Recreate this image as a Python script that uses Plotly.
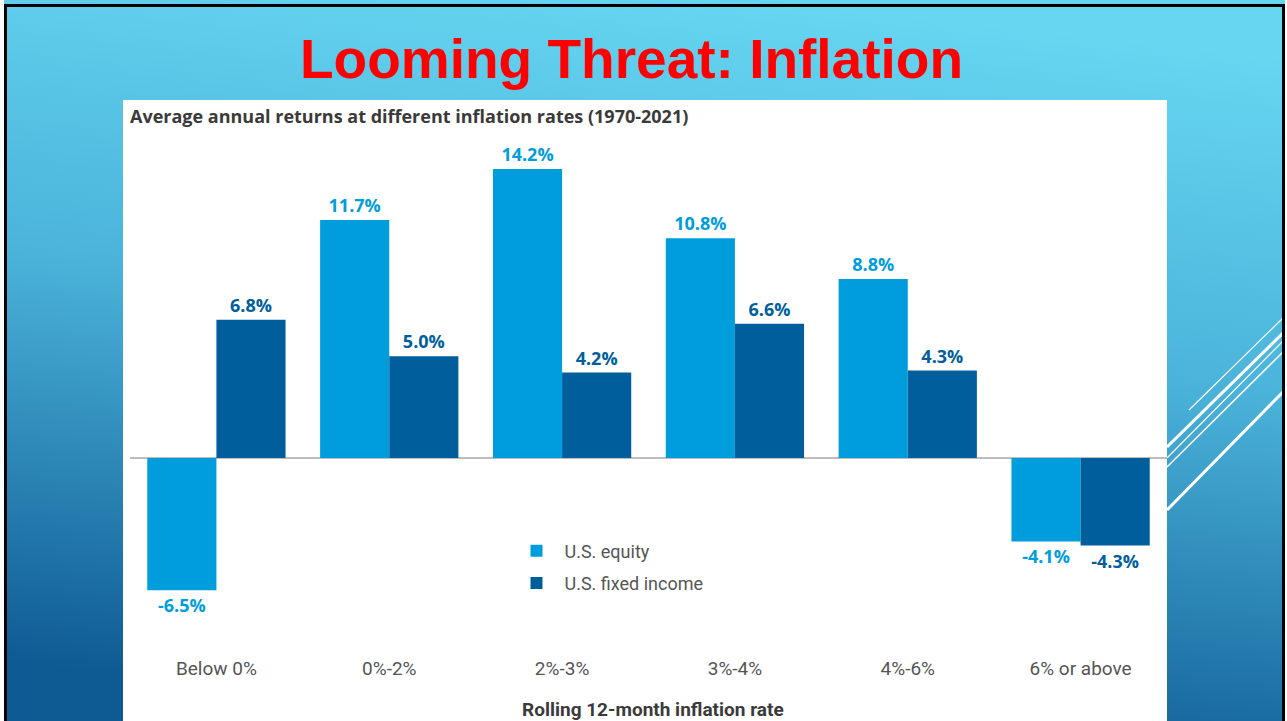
import base64
import plotly.graph_objects as go

# ---------------------------------------------------------------------
# Data
categories = ["Below 0%", "0%-2%", "2%-3%", "3%-4%", "4%-6%", "6% or above"]
equity = [-6.5, 11.7, 14.2, 10.8, 8.8, -4.1]
fixed_income = [6.8, 5.0, 4.2, 6.6, 4.3, -4.3]

EQUITY_BLUE = "#009DDD"
FIXED_BLUE = "#005E9D"

W, H = 1287, 721
L, R, T, B = 130, 120, 130, 66
PW, PH = W - L - R, H - T - B


def px(x):
    # pixel -> paper x
    return (x - L) / PW


def py(y):
    # pixel -> paper y
    return (H - B - y) / PH


# slide background gradient as an svg image
svg = (
    "<svg xmlns='http://www.w3.org/2000/svg' width='1281' height='721' "
    "viewBox='0 0 1281 721' preserveAspectRatio='none'>"
    "<defs><linearGradient id='g' x1='0.6' y1='0' x2='0.4' y2='1'>"
    "<stop offset='0' stop-color='#66D6F1'/>"
    "<stop offset='0.45' stop-color='#4BB3DA'/>"
    "<stop offset='1' stop-color='#0E5A92'/>"
    "</linearGradient></defs>"
    "<rect width='1281' height='721' fill='url(#g)'/></svg>"
)
svg_uri = "data:image/svg+xml;base64," + base64.b64encode(svg.encode()).decode()

label_font = dict(size=18, family="Open Sans", weight="bold")

fig = go.Figure()
fig.add_trace(go.Bar(
    x=categories, y=equity, name="U.S. equity", legendgroup="eq",
    marker=dict(color=EQUITY_BLUE, line=dict(width=0)),
    texttemplate="%{y:.1f}%", textposition="outside", cliponaxis=False,
    textfont=dict(color=EQUITY_BLUE, **label_font),
))
fig.add_trace(go.Bar(
    x=categories, y=fixed_income, name="U.S. fixed income", legendgroup="fi",
    marker=dict(color=FIXED_BLUE, line=dict(width=0)),
    texttemplate="%{y:.1f}%", textposition="outside", cliponaxis=False,
    textfont=dict(color=FIXED_BLUE, **label_font),
))

shapes = []
# decorative white strokes on the right edge
deco = [
    ((1189, 410), (1283, 318), 1.2),
    ((1167, 447), (1283, 333), 3),
    ((1167, 458), (1283, 341), 1.2),
    ((1167, 467), (1283, 352), 1.5),
    ((1167, 510), (1283, 392), 3),
]
for (x0, y0), (x1, y1), w in deco:
    shapes.append(dict(type="line", xref="paper", yref="paper", layer="below",
                       x0=px(x0), y0=py(y0), x1=px(x1), y1=py(y1),
                       line=dict(color="white", width=w)))
# white chart panel
shapes.append(dict(type="rect", xref="paper", yref="paper", layer="below",
                   x0=px(123), x1=px(1167), y0=py(100), y1=py(740),
                   fillcolor="white", line=dict(width=0)))
# black slide border
shapes.append(dict(type="rect", xref="paper", yref="paper", layer="below",
                   x0=px(5.5), x1=px(1283.5), y0=py(5.5), y1=py(760),
                   fillcolor="rgba(0,0,0,0)", line=dict(color="black", width=3)))

fig.update_layout(
    width=W, height=H,
    margin=dict(l=L, r=R, t=T, b=B, pad=0),
    paper_bgcolor="white",
    plot_bgcolor="white",
    barmode="group", bargap=0.2, bargroupgap=0,
    showlegend=True,
    legend=dict(x=px(508.5), y=py(532.5), xanchor="left", yanchor="top",
                bgcolor="rgba(0,0,0,0)", traceorder="grouped", tracegroupgap=6,
                itemwidth=46,
                font=dict(family="Roboto", size=18, color="#555555")),
    xaxis=dict(showgrid=False, showline=False, ticks="", ticklabelstandoff=0,
               tickfont=dict(family="Roboto", size=19, color="#555555")),
    yaxis=dict(range=[-9.68, 16.12], visible=True, showgrid=False, showticklabels=False,
               zeroline=True, zerolinecolor="#BDBDBD", zerolinewidth=2),
    images=[dict(source=svg_uri, xref="paper", yref="paper", layer="below",
                 x=px(4), y=py(0), sizex=1281 / PW, sizey=721 / PH,
                 xanchor="left", yanchor="top", sizing="stretch")],
    shapes=shapes,
    annotations=[
        dict(text="<b>Looming Threat: Inflation</b>", xref="paper", yref="paper",
             x=px(631), y=py(59), xanchor="center", yanchor="middle", showarrow=False,
             font=dict(family="Liberation Sans", size=55, color="#FF0000")),
        dict(text="<b>Average annual returns at different inflation rates (1970-2021)</b>",
             xref="paper", yref="paper", x=px(128), y=py(116), xanchor="left",
             yanchor="middle", showarrow=False,
             font=dict(family="Open Sans", size=18, color="#3A3A3A")),
        dict(text="<b>Rolling 12-month inflation rate</b>", xref="paper", yref="paper",
             x=px(653), y=py(709), xanchor="center", yanchor="middle", showarrow=False,
             font=dict(family="Roboto", size=19, color="#3A3A3A")),
    ],
)

fig.write_html("out.html", config={"displayModeBar": False},
               post_script="document.body.style.margin='0';")
